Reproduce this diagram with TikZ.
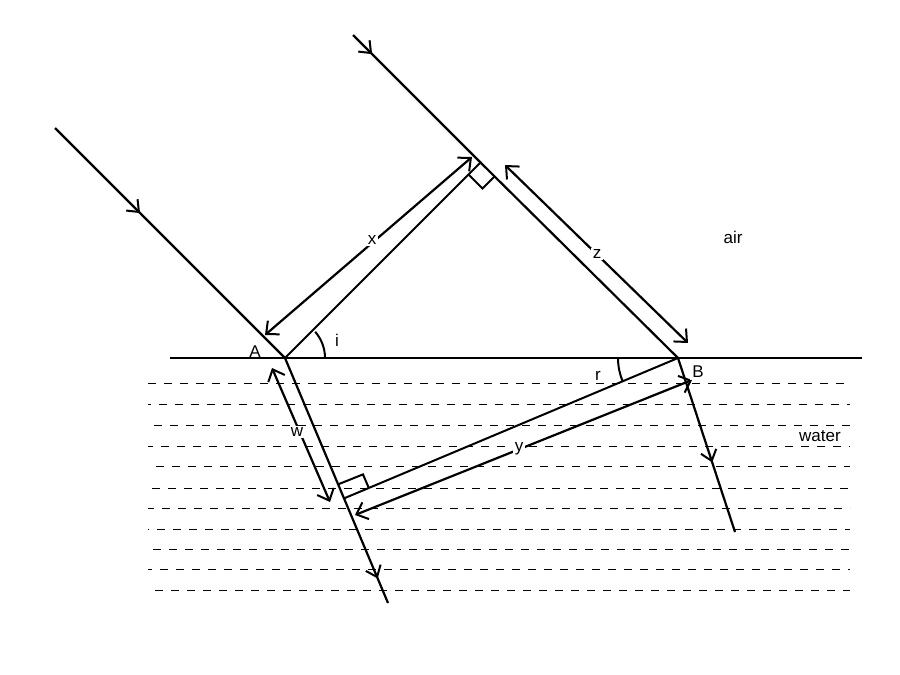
\documentclass[tikz,border=0pt]{standalone}
\usetikzlibrary{arrows.meta,decorations.markings,calc}
\usepackage{fontspec}
\setmainfont{Liberation Sans}
\begin{document}
\begin{tikzpicture}[x=1pt,y=-1pt,
  ray/.style={line width=2.2pt},
  midarrow/.style={ray,postaction={decorate},decoration={markings,mark=at position #1 with {\arrow{Straight Barb[length=10pt,width=16pt,line width=2pt]}}}},
  dim/.style={line width=2.2pt,{Straight Barb[length=10pt,width=18pt,line width=2pt]}-{Straight Barb[length=10pt,width=18pt,line width=2pt]}},
  thin/.style={line width=2pt},
  water/.style={line width=1pt,dash pattern=on 8pt off 8pt},
  lab/.style={font=\fontsize{17}{19}\selectfont,inner sep=2pt}]
\useasboundingbox (0,0) rectangle (900,675);
% water dashes
\foreach \yy/\ph in {383/0,404/5,425/10,446/3,466/8,488/12,508/2,529/7,549/11,569/4,590/9}
  \draw[water,dash phase=\ph pt] (148,\yy) -- (850,\yy);
% points
\coordinate (A) at (285,358);
\coordinate (B) at (678,358);
\coordinate (F) at (480.5,162.5);
\coordinate (P) at (344,498.4);
\coordinate (L0) at (55,128);
\coordinate (R0) at (353,35);
\coordinate (LA) at (388,603);
\coordinate (LB) at (735,532);
\coordinate (S1) at (170,358);
\coordinate (S2) at (862,358);
% surface
\draw[ray] (S1) -- (S2);
% incident rays
\draw[midarrow=0.37] (L0) -- (A);
\draw[midarrow=0.15] (R0) -- (F);
\draw[ray] (F) -- (B);
% wavefronts
\draw[thin] (A) -- (F);
\draw[thin] (B) -- (P);
% refracted rays
\draw[midarrow=0.9] (A) -- (LA);
\draw[midarrow=0.6] (B) -- (LB);
% right angle marks
\draw[thin] ($(F)+(-12,12)$) -- ++(14,14) -- ++(12,-12);
\draw[thin] ($(P)+(-6,-14)$) -- ++(25,-10) -- ++(6,14);
% dimension arrows
\coordinate (x1) at (265,335); \coordinate (x2) at (472,157);
\draw[dim] (x1) -- (x2);
\coordinate (z1) at (505,165); \coordinate (z2) at (688,343);
\draw[dim] (z1) -- (z2);
\coordinate (y1) at (355,515); \coordinate (y2) at (692,380);
\draw[dim] (y1) -- (y2);
\coordinate (w1) at (272,368); \coordinate (w2) at (330,502);
\draw[dim] (w1) -- (w2);
% angles
\draw[thin] ($(A)+(40,0)$) arc[start angle=0,end angle=-41,radius=40];
\draw[thin] ($(B)+(-60,0)$) arc[start angle=180,end angle=157,radius=60];
% labels
\node[lab,fill=white] (lx) at (372,240) {x};
\node[lab,fill=white] (lz) at (597,254) {z};
\node[lab,fill=white] (ly) at (519,449) {y};
\node[lab,fill=white] (lw) at (297,432) {w};
\node[lab] (li) at (337,340) {i};
\node[lab,fill=white] (lr) at (598,376) {r};
\node[lab] (lA) at (255,352) {A};
\node[lab,fill=white] (lB) at (698,372) {B};
\node[lab] (lair) at (733,237) {air};
\node[lab,fill=white] (lwater) at (820,436) {water};
\end{tikzpicture}
\end{document}
